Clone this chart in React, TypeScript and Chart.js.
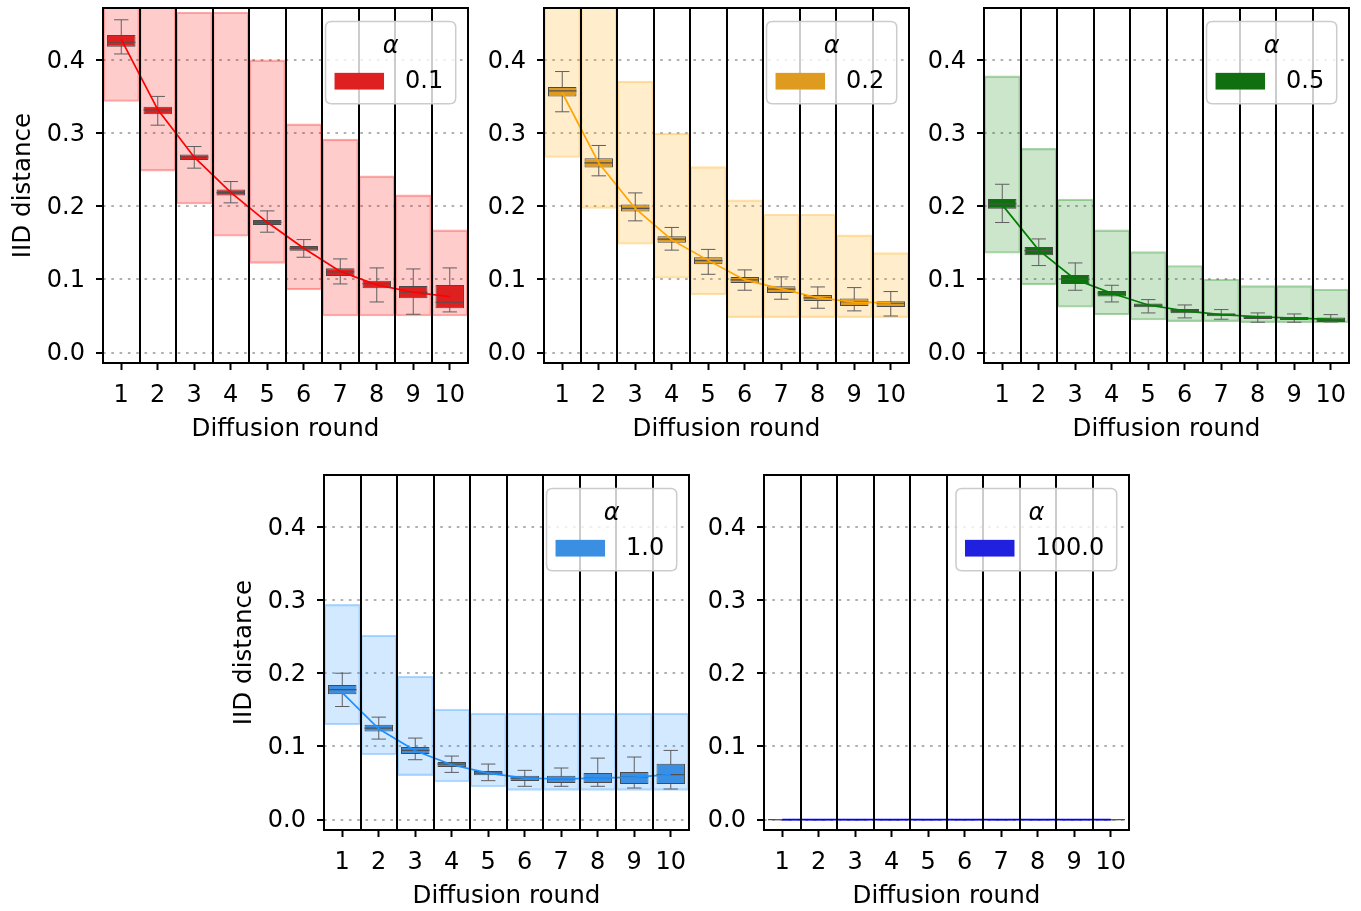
import React, { useEffect, useRef } from 'react';
import { Chart, registerables } from 'chart.js';

Chart.register(...registerables);

// ---------- data ----------
const rounds = ['1', '2', '3', '4', '5', '6', '7', '8', '9', '10'];
const yTickValues = [0, 0.1, 0.2, 0.3, 0.4];
const alphaLabels = ['0.1', '0.2', '0.5', '1.0', '100.0'];

// alpha = 0.1
const rangeLoA01 = [0.343, 0.248, 0.203, 0.159, 0.122, 0.0856, 0.05, 0.05, 0.05, 0.05];
const rangeHiA01 = [0.5, 0.5, 0.465, 0.465, 0.4, 0.3125, 0.2916, 0.2415, 0.2155, 0.1677];
const whLoA01 = [0.408, 0.3107, 0.252, 0.2046, 0.1645, 0.1303, 0.0938, 0.0692, 0.0524, 0.0556];
const q1A01 = [0.418, 0.3257, 0.2633, 0.2146, 0.1745, 0.139, 0.1048, 0.0879, 0.0743, 0.0606];
const medA01 = [0.424, 0.3317, 0.267, 0.2187, 0.178, 0.1426, 0.1103, 0.0943, 0.0825, 0.0688];
const q3A01 = [0.434, 0.336, 0.2706, 0.2228, 0.1813, 0.1458, 0.1153, 0.098, 0.0911, 0.0925];
const whHiA01 = [0.4547, 0.35, 0.2815, 0.2337, 0.1936, 0.1544, 0.128, 0.1157, 0.1143, 0.1157];
const meanA01 = [0.428, 0.332, 0.267, 0.219, 0.178, 0.1426, 0.1107, 0.0925, 0.0825, 0.0765];

// alpha = 0.2
const rangeLoA02 = [0.2665, 0.197, 0.148, 0.1016, 0.0788, 0.0478, 0.0478, 0.0478, 0.0478, 0.0478];
const rangeHiA02 = [0.5, 0.5, 0.371, 0.2998, 0.254, 0.2087, 0.189, 0.189, 0.1608, 0.1367];
const whLoA02 = [0.329, 0.2415, 0.18, 0.14, 0.107, 0.0852, 0.0729, 0.0606, 0.057, 0.05];
const q1A02 = [0.35, 0.2528, 0.1927, 0.15, 0.1207, 0.0952, 0.0815, 0.0706, 0.0638, 0.0624];
const medA02 = [0.3576, 0.2592, 0.197, 0.155, 0.1257, 0.0993, 0.0866, 0.0747, 0.0697, 0.0674];
const q3A02 = [0.363, 0.2656, 0.2023, 0.159, 0.1303, 0.1034, 0.0907, 0.0788, 0.0738, 0.0702];
const whHiA02 = [0.384, 0.283, 0.2182, 0.171, 0.141, 0.113, 0.1034, 0.0897, 0.0888, 0.0834];
const meanA02 = [0.355, 0.259, 0.197, 0.154, 0.126, 0.0993, 0.087, 0.075, 0.069, 0.068];

// alpha = 0.5
const rangeLoA05 = [0.1358, 0.0925, 0.062, 0.0515, 0.0446, 0.0424, 0.0424, 0.041, 0.041, 0.041];
const rangeHiA05 = [0.378, 0.279, 0.2096, 0.1677, 0.138, 0.119, 0.1002, 0.0916, 0.0916, 0.0866];
const whLoA05 = [0.1777, 0.1189, 0.0852, 0.0692, 0.0542, 0.0474, 0.0456, 0.0415, 0.0415, 0.0419];
const q1A05 = [0.1964, 0.133, 0.0938, 0.0765, 0.062, 0.0538, 0.0497, 0.046, 0.0446, 0.0419];
const medA05 = [0.2032, 0.1394, 0.1002, 0.0811, 0.0647, 0.057, 0.0519, 0.0487, 0.047, 0.0451];
const q3A05 = [0.21, 0.1444, 0.1061, 0.0843, 0.067, 0.0597, 0.0538, 0.0506, 0.0487, 0.0478];
const whHiA05 = [0.23, 0.1553, 0.1225, 0.092, 0.0724, 0.0651, 0.0588, 0.0542, 0.0528, 0.0519];
const meanA05 = [0.2018, 0.14, 0.1, 0.081, 0.065, 0.057, 0.052, 0.049, 0.047, 0.0456];

// alpha = 1.0
const rangeLoA10 = [0.1295, 0.0886, 0.06, 0.0514, 0.0445, 0.04, 0.04, 0.04, 0.04, 0.04];
const rangeHiA10 = [0.294, 0.252, 0.196, 0.151, 0.1455, 0.1455, 0.1455, 0.1455, 0.1455, 0.1455];
const whLoA10 = [0.1545, 0.11, 0.0818, 0.0645, 0.0532, 0.0455, 0.0455, 0.0455, 0.0432, 0.0418];
const q1A10 = [0.1714, 0.1205, 0.0895, 0.0718, 0.0605, 0.0527, 0.05, 0.05, 0.0486, 0.0486];
const medA10 = [0.1777, 0.125, 0.0945, 0.0759, 0.0636, 0.0568, 0.0555, 0.0568, 0.0582, 0.0614];
const q3A10 = [0.184, 0.1295, 0.0991, 0.0786, 0.0664, 0.06, 0.06, 0.0636, 0.065, 0.0764];
const whHiA10 = [0.2, 0.14, 0.1114, 0.0868, 0.0759, 0.0673, 0.0705, 0.084, 0.0855, 0.0945];
const meanA10 = [0.1736, 0.124, 0.094, 0.075, 0.0636, 0.0568, 0.0555, 0.0568, 0.058, 0.0614];

// alpha = 100.0
const zerosA100 = [0, 0, 0, 0, 0, 0, 0, 0, 0, 0];
const meanA100 = [0, 0, 0, 0, 0, 0, 0, 0, 0, 0];

// ---------- layout / style ----------
const FONT = '"DejaVu Sans", sans-serif';
const FS = 24;
const FS_TITLE = 24.6;
const Y_MIN = -0.0142;
const Y_MAX = 0.4708;
const AX = 103; // y-axis area width
const PT = 8; // top padding
const PR = 8; // right padding
const XB = 83; // x-axis area height
const PW = 365;
const PH = 355;
const CW = AX + PW + PR;
const CH = PT + PH + XB;

type Spec = {
  alpha: string;
  line: string;
  box: string;
  rgb: string;
  rangeLo: number[];
  rangeHi: number[];
  whLo: number[];
  q1: number[];
  med: number[];
  q3: number[];
  whHi: number[];
  mean: number[];
  left: number;
  top: number;
  yTitle: boolean;
};

const specs: Spec[] = [
  { alpha: alphaLabels[0], line: '#ff0000', box: '#df2020', rgb: '255,0,0', rangeLo: rangeLoA01, rangeHi: rangeHiA01, whLo: whLoA01, q1: q1A01, med: medA01, q3: q3A01, whHi: whHiA01, mean: meanA01, left: 103, top: 8, yTitle: true },
  { alpha: alphaLabels[1], line: '#ffa500', box: '#df9b20', rgb: '255,165,0', rangeLo: rangeLoA02, rangeHi: rangeHiA02, whLo: whLoA02, q1: q1A02, med: medA02, q3: q3A02, whHi: whHiA02, mean: meanA02, left: 544, top: 8, yTitle: false },
  { alpha: alphaLabels[2], line: '#008000', box: '#107010', rgb: '0,128,0', rangeLo: rangeLoA05, rangeHi: rangeHiA05, whLo: whLoA05, q1: q1A05, med: medA05, q3: q3A05, whHi: whHiA05, mean: meanA05, left: 984, top: 8, yTitle: false },
  { alpha: alphaLabels[3], line: '#1e90ff', box: '#3a8fe3', rgb: '30,144,255', rangeLo: rangeLoA10, rangeHi: rangeHiA10, whLo: whLoA10, q1: q1A10, med: medA10, q3: q3A10, whHi: whHiA10, mean: meanA10, left: 324, top: 475, yTitle: true },
  { alpha: alphaLabels[4], line: '#0000ff', box: '#2020df', rgb: '0,0,255', rangeLo: zerosA100, rangeHi: zerosA100, whLo: zerosA100, q1: zerosA100, med: zerosA100, q3: zerosA100, whHi: zerosA100, mean: meanA100, left: 764, top: 475, yTitle: false },
];

function Panel({ spec }: { spec: Spec }) {
  const ref = useRef<HTMLCanvasElement>(null);

  useEffect(() => {
    const canvas = ref.current;
    if (!canvas) return;

    const whiskerPts: any[] = [];
    const capPts: any[] = [];
    rounds.forEach((r, i) => {
      whiskerPts.push({ x: r, y: spec.whLo[i] }, { x: r, y: spec.whHi[i] }, { x: r, y: null });
      capPts.push({ x: r, y: spec.whLo[i] }, { x: r, y: spec.whHi[i] });
    });

    const framePlugin = {
      id: 'frameLegend',
      afterDraw(chart: any) {
        const { ctx, chartArea: a } = chart;
        const xs = chart.scales.x;
        ctx.save();
        // separators
        ctx.strokeStyle = '#000';
        ctx.lineWidth = 2;
        for (let i = 0; i < rounds.length - 1; i++) {
          const px = Math.round((xs.getPixelForValue(i) + xs.getPixelForValue(i + 1)) / 2);
          ctx.beginPath();
          ctx.moveTo(px, a.top);
          ctx.lineTo(px, a.bottom);
          ctx.stroke();
        }
        // frame
        ctx.strokeRect(a.left, a.top, a.right - a.left, a.bottom - a.top);

        // legend
        ctx.font = `${FS}px ${FONT}`;
        const tw = ctx.measureText(spec.alpha).width;
        const w = 9 + 49.5 + 21 + tw + 12.5;
        const h = 82.3;
        const lx = a.right - 12.3 - w;
        const ly = a.top + 13.4;
        const r = 6;
        ctx.beginPath();
        ctx.moveTo(lx + r, ly);
        ctx.lineTo(lx + w - r, ly);
        ctx.quadraticCurveTo(lx + w, ly, lx + w, ly + r);
        ctx.lineTo(lx + w, ly + h - r);
        ctx.quadraticCurveTo(lx + w, ly + h, lx + w - r, ly + h);
        ctx.lineTo(lx + r, ly + h);
        ctx.quadraticCurveTo(lx, ly + h, lx, ly + h - r);
        ctx.lineTo(lx, ly + r);
        ctx.quadraticCurveTo(lx, ly, lx + r, ly);
        ctx.closePath();
        ctx.fillStyle = 'rgba(255,255,255,0.8)';
        ctx.fill();
        ctx.strokeStyle = '#cccccc';
        ctx.lineWidth = 1.5;
        ctx.stroke();

        ctx.fillStyle = '#000';
        ctx.textBaseline = 'middle';
        ctx.textAlign = 'center';
        ctx.font = `italic ${FS}px ${FONT}`;
        ctx.fillText('α', lx + w / 2, ly + 25.3);

        ctx.fillStyle = spec.box;
        ctx.fillRect(lx + 9, ly + 59.8 - 8.35, 49.5, 16.7);

        ctx.fillStyle = '#000';
        ctx.textAlign = 'left';
        ctx.font = `${FS}px ${FONT}`;
        ctx.fillText(spec.alpha, lx + 79.5, ly + 60.5);
        ctx.restore();
      },
    };

    const chart = new Chart(canvas, {
      type: 'bar',
      data: {
        labels: rounds,
        datasets: [
          {
            type: 'bar',
            label: 'range',
            data: spec.rangeLo.map((lo, i) => [lo, spec.rangeHi[i]]) as any,
            backgroundColor: `rgba(${spec.rgb},0.2)`,
            borderColor: `rgba(${spec.rgb},0.34)`,
            borderWidth: 1.5,
            borderSkipped: false,
            barPercentage: 1,
            categoryPercentage: 1,
            grouped: false,
            order: 6,
          } as any,
          {
            type: 'line',
            label: 'whisker',
            data: whiskerPts,
            borderColor: '#5e5e5e',
            borderWidth: 1,
            pointRadius: 0,
            spanGaps: false,
            order: 5,
          } as any,
          {
            type: 'bar',
            label: 'box',
            data: spec.q1.map((v, i) => [v, spec.q3[i]]) as any,
            backgroundColor: spec.box,
            borderColor: '#4a4a4a',
            borderWidth: 1,
            borderSkipped: false,
            barPercentage: 0.78,
            categoryPercentage: 1,
            grouped: false,
            order: 4,
          } as any,
          {
            type: 'line',
            label: 'median',
            data: spec.med,
            showLine: false,
            pointStyle: 'line',
            pointRadius: 14.2,
            pointBorderColor: '#505050',
            pointBorderWidth: 1.2,
            order: 3,
          } as any,
          {
            type: 'line',
            label: 'caps',
            data: capPts,
            showLine: false,
            pointStyle: 'line',
            pointRadius: 7.2,
            pointBorderColor: '#5e5e5e',
            pointBorderWidth: 1,
            order: 2,
          } as any,
          {
            type: 'line',
            label: 'mean',
            data: spec.mean,
            borderColor: spec.line,
            borderWidth: 1.7,
            pointRadius: 0,
            tension: 0,
            order: 1,
          } as any,
        ],
      },
      options: {
        animation: false,
        responsive: false,
        devicePixelRatio: 1,
        events: [],
        layout: { autoPadding: false, padding: { top: PT, right: PR, left: 0, bottom: 0 } },
        plugins: {
          legend: { display: false },
          tooltip: { enabled: false },
        },
        scales: {
          x: {
            type: 'category',
            offset: true,
            grid: {
              display: true,
              offset: false,
              drawOnChartArea: false,
              drawTicks: true,
              tickLength: 7,
              tickWidth: 2,
              tickColor: '#000',
            },
            border: { display: false },
            ticks: {
              color: '#000',
              font: { family: FONT, size: FS },
              padding: 11,
              autoSkip: false,
              maxRotation: 0,
            },
            title: {
              display: true,
              text: 'Diffusion round',
              color: '#000',
              font: { family: FONT, size: FS_TITLE },
              padding: { top: 0, bottom: 1.3 },
            },
            afterFit: (s: any) => {
              s.height = XB;
              s.paddingLeft = 0;
              s.paddingRight = 0;
            },
          } as any,
          y: {
            type: 'linear',
            min: Y_MIN,
            max: Y_MAX,
            z: 1,
            grid: {
              color: '#b0b0b0',
              lineWidth: 2,
              drawTicks: true,
              tickLength: 7,
              tickWidth: 2,
              tickColor: '#000',
            },
            border: { display: false, dash: [2.6, 5.7] },
            ticks: {
              color: '#000',
              font: { family: FONT, size: FS },
              padding: 11,
              labelOffset: 1.5,
              callback: (v: any) => Number(v).toFixed(1),
            },
            title: {
              display: spec.yTitle,
              text: 'IID distance',
              color: '#000',
              font: { family: FONT, size: FS_TITLE },
              padding: { top: 9.3, bottom: 0 },
            },
            afterBuildTicks: (s: any) => {
              s.ticks = yTickValues.map((v) => ({ value: v }));
            },
            afterFit: (s: any) => {
              s.width = AX;
              s.paddingTop = 0;
              s.paddingBottom = 0;
            },
          } as any,
        },
      },
      plugins: [framePlugin],
    } as any);

    return () => chart.destroy();
  }, [spec]);

  return (
    <canvas
      ref={ref}
      width={CW}
      height={CH}
      style={{ position: 'absolute', left: spec.left - AX, top: spec.top - PT, width: CW, height: CH }}
    />
  );
}

export default function App() {
  return (
    <div
      style={{
        position: 'absolute',
        left: 0,
        top: 0,
        width: 1361,
        height: 911,
        overflow: 'hidden',
        background: '#fff',
      }}
    >
      {specs.map((s) => (
        <Panel key={s.alpha} spec={s} />
      ))}
    </div>
  );
}
